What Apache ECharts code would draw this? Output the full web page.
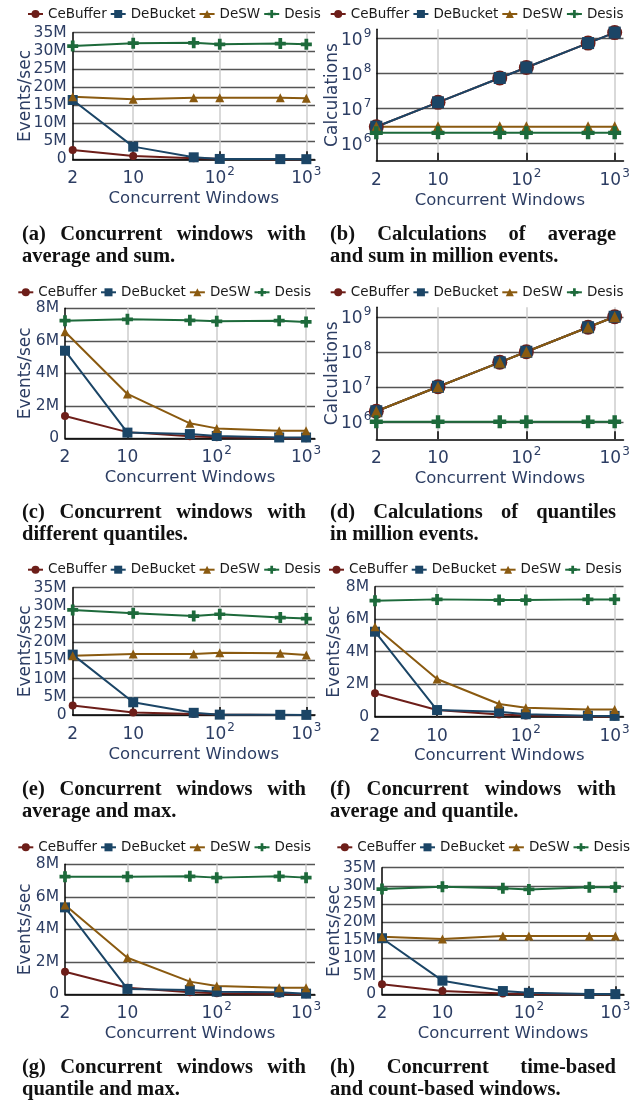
<!DOCTYPE html>
<html><head><meta charset="utf-8">
<script src="https://cdn.jsdelivr.net/npm/echarts@6/dist/echarts.min.js"></script>
<style>html,body{margin:0;padding:0;background:#fff}#c{width:637px;height:1106px}</style>
</head><body><div id="c"></div>
<script>
// ---------- DATA ----------
const windows = [2, 10, 50, 100, 500, 1000];
const seriesNames = ['CeBuffer', 'DeBucket', 'DeSW', 'Desis'];
const xTickValues = [10, 100, 1000];
const xLabelValues = [2, 10, 100, 1000];
const yLogTickValues = [1e6, 1e7, 1e8, 1e9];

// (a) Events/sec in millions
const aCeBuffer = [2.6, 0.9, 0.3, 0.15, 0.03, 0.02];
const aDeBucket = [16.4, 3.5, 0.55, 0.1, 0.05, 0.03];
const aDeSW = [17.3, 16.6, 17.0, 17.0, 17.0, 16.9];
const aDesis = [31.3, 32.1, 32.2, 31.8, 32.0, 31.8];
// (b) Calculations
const bCeBuffer = [3e6, 1.5e7, 7.5e7, 1.5e8, 7.5e8, 1.5e9];
const bDeBucket = [3e6, 1.5e7, 7.5e7, 1.5e8, 7.5e8, 1.5e9];
const bDeSW = [3e6, 3e6, 3e6, 3e6, 3e6, 3e6];
const bDesis = [2e6, 2e6, 2e6, 2e6, 2e6, 2e6];
// (c) Events/sec in millions
const cCeBuffer = [1.37, 0.38, 0.12, 0.07, 0.02, 0.01];
const cDeBucket = [5.39, 0.35, 0.26, 0.14, 0.05, 0.05];
const cDeSW = [6.56, 2.73, 0.92, 0.61, 0.47, 0.47];
const cDesis = [7.24, 7.32, 7.26, 7.2, 7.24, 7.16];
// (d) Calculations
const dCeBuffer = [2e6, 1e7, 5e7, 1e8, 5e8, 1e9];
const dDeBucket = [2e6, 1e7, 5e7, 1e8, 5e8, 1e9];
const dDeSW = [2e6, 1e7, 5e7, 1e8, 5e8, 1e9];
const dDesis = [1e6, 1e6, 1e6, 1e6, 1e6, 1e6];
// (e) Events/sec in millions
const eCeBuffer = [2.6, 0.7, 0.25, 0.12, 0.03, 0.02];
const eDeBucket = [16.6, 3.5, 0.6, 0.1, 0.05, 0.03];
const eDeSW = [16.3, 16.8, 16.8, 17.1, 17.0, 16.5];
const eDesis = [28.9, 28.0, 27.2, 27.7, 26.8, 26.5];
// (f) Events/sec in millions
const fCeBuffer = [1.44, 0.41, 0.13, 0.07, 0.02, 0.01];
const fDeBucket = [5.23, 0.41, 0.31, 0.15, 0.06, 0.05];
const fDeSW = [5.54, 2.32, 0.78, 0.55, 0.45, 0.45];
const fDesis = [7.14, 7.22, 7.18, 7.18, 7.22, 7.22];
// (g) Events/sec in millions
const gCeBuffer = [1.39, 0.4, 0.12, 0.07, 0.03, 0.01];
const gDeBucket = [5.35, 0.33, 0.26, 0.16, 0.13, 0.04];
const gDeSW = [5.5, 2.25, 0.78, 0.51, 0.41, 0.41];
const gDesis = [7.24, 7.24, 7.26, 7.18, 7.26, 7.18];
// (h) Events/sec in millions
const hCeBuffer = [2.76, 0.9, 0.25, 0.1, 0.03, 0.02];
const hDeBucket = [15.5, 3.77, 0.9, 0.4, 0.1, 0.05];
const hDeSW = [15.9, 15.3, 16.1, 16.1, 16.1, 16.1];
const hDesis = [29.1, 29.7, 29.3, 29.0, 29.6, 29.6];

const captionsLine1 = ['(a) Concurrent windows with', '(b) Calculations of average', '(c) Concurrent windows with', '(d) Calculations of quantiles',
  '(e) Concurrent windows with', '(f) Concurrent windows with', '(g) Concurrent windows with', '(h) Concurrent time-based'];
const captionsLine2 = ['average and sum.', 'and sum in million events.', 'different quantiles.', 'in million events.',
  'average and max.', 'average and quantile.', 'quantile and max.', 'and count-based windows.'];

const panelData = [
  [aCeBuffer, aDeBucket, aDeSW, aDesis],
  [bCeBuffer, bDeBucket, bDeSW, bDesis],
  [cCeBuffer, cDeBucket, cDeSW, cDesis],
  [dCeBuffer, dDeBucket, dDeSW, dDesis],
  [eCeBuffer, eDeBucket, eDeSW, eDesis],
  [fCeBuffer, fDeBucket, fDeSW, fDesis],
  [gCeBuffer, gDeBucket, gDeSW, gDesis],
  [hCeBuffer, hDeBucket, hDeSW, hDesis]
];

// ---------- LAYOUT / STYLE ----------
const panels = [
  {grid: [72.7, 32.7, 242.3, 126.6], y: 'lin35', yName: 'Events/sec', yGap: 39, legend: [27, 15], cap: [22, 306, 235]},
  {grid: [376.3, 29.3, 247.2, 131.5], y: 'log', yName: 'Calculations', yGap: 35, legend: [329.7, 15], cap: [330, 616, 235]},
  {grid: [65, 308.3, 250, 130], y: 'lin8', yName: 'Events/sec', yGap: 31, legend: [17.3, 293.3], cap: [22, 306, 513]},
  {grid: [376.3, 307.3, 247.2, 132], y: 'log', yName: 'Calculations', yGap: 35, legend: [329.7, 293.3], cap: [330, 616, 513]},
  {grid: [72.7, 587.7, 242.3, 127.3], y: 'lin35', yName: 'Events/sec', yGap: 39, legend: [27, 570.7], cap: [22, 306, 790]},
  {grid: [375, 586.7, 248.5, 130], y: 'lin8', yName: 'Events/sec', yGap: 32, legend: [328, 570.7], cap: [330, 616, 790]},
  {grid: [65, 864.3, 250, 130], y: 'lin8', yName: 'Events/sec', yGap: 31, legend: [17.3, 848.3], cap: [22, 306, 1068]},
  {grid: [382, 867.7, 242, 126.6], y: 'lin35', yName: 'Events/sec', yGap: 39, legend: [336.3, 848.3], cap: [330, 616, 1068]}
];

const colors = ['#6d1e19', '#1b4566', '#8a5a10', '#1d6a3b'];
const plusPath = 'path://M3.3,0H6.7V3.3H10V6.7H6.7V10H3.3V6.7H0V3.3H3.3Z';
const symbols = ['circle', 'rect', 'triangle', plusPath];
const sizesLin = [8, 10, 9, 11];
const sizesLog = [15, 12, 11, 13];
const axisTextColor = '#2c3d63';
const FONT = 'DejaVu Sans';
const TICK_FS = 17;
const YTICK_FS = 15.5;

function supLabel(v) {
  const e = Math.round(Math.log10(v));
  if (v === 2) return '{b|2}';
  if (e === 1) return '{b|10}';
  return '{b|10}{s|' + e + '}';
}
const richSup = {
  b: {fontSize: TICK_FS, lineHeight: 21, color: axisTextColor, fontFamily: FONT, verticalAlign: 'bottom'},
  s: {fontSize: 12, lineHeight: 12, color: axisTextColor, fontFamily: FONT, verticalAlign: 'top', padding: [0, 0, 0, 1]}
};

const grids = [], xAxes = [], yAxes = [], series = [], legends = [], graphics = [];

panels.forEach((p, i) => {
  grids.push({left: p.grid[0], top: p.grid[1], width: p.grid[2], height: p.grid[3], containLabel: false, outerBoundsMode: 'none'});
  xAxes.push({
    type: 'log', logBase: 10, gridIndex: i, min: 2, max: 1259,
    name: 'Concurrent Windows', nameLocation: 'middle', nameGap: 31, nameMoveOverlap: false,
    nameTextStyle: {color: axisTextColor, fontSize: 16.5, fontFamily: FONT},
    axisLine: {show: true, lineStyle: {color: '#000', width: 1.5}},
    axisTick: {show: true, inside: true, length: 8, customValues: xTickValues, lineStyle: {color: '#333', width: 2}},
    axisLabel: {customValues: xLabelValues, formatter: supLabel, color: axisTextColor, fontSize: TICK_FS, fontFamily: FONT, margin: 7, rich: richSup},
    splitLine: {show: true, lineStyle: {color: '#cccccc', width: 1.5}},
    minorTick: {show: false}, minorSplitLine: {show: false}
  });
  let ya;
  const common = {
    gridIndex: i, name: p.yName, nameLocation: 'middle', nameGap: p.yGap, nameMoveOverlap: false,
    nameTextStyle: {color: axisTextColor, fontSize: 17, fontFamily: FONT},
    axisLine: {show: true, lineStyle: {color: '#000', width: 1.5}},
    axisTick: {show: false},
    splitLine: {show: true, lineStyle: {color: '#555555', width: 1.4}}
  };
  if (p.y === 'log') {
    ya = Object.assign({}, common, {
      type: 'log', logBase: 10, min: Math.pow(10, 5.5), max: Math.pow(10, 9.27),
      axisTick: {show: false, customValues: yLogTickValues},
      axisLabel: {customValues: yLogTickValues, formatter: supLabel, color: axisTextColor, fontSize: TICK_FS, fontFamily: FONT, margin: 5, rich: richSup}
    });
  } else {
    const mx = p.y === 'lin35' ? 35 : 8;
    const iv = p.y === 'lin35' ? 5 : 2;
    ya = Object.assign({}, common, {
      type: 'value', min: 0, max: mx, interval: iv,
      axisLabel: {formatter: v => v === 0 ? '0' : v + 'M', color: axisTextColor, fontSize: YTICK_FS, fontFamily: FONT, margin: 6}
    });
  }
  yAxes.push(ya);

  const sizes = p.y === 'log' ? sizesLog : sizesLin;
  seriesNames.forEach((name, k) => {
    series.push({
      type: 'line', name: name, xAxisIndex: i, yAxisIndex: i,
      data: windows.map((w, j) => [w, panelData[i][k][j]]),
      symbol: symbols[k], symbolSize: sizes[k], showSymbol: true, clip: false,
      lineStyle: {color: colors[k], width: 2},
      itemStyle: {color: colors[k]},
      emphasis: {disabled: true}, silent: true, animation: false
    });
  });

  legends.push({
    left: p.legend[0], top: p.legend[1] - 8, padding: 0, orient: 'horizontal',
    itemWidth: 15, itemHeight: 10, itemGap: 3, selectedMode: false,
    data: seriesNames,
    textStyle: {fontSize: 13.5, color: '#1a1a1a', fontFamily: FONT}
  });
});

// ---------- CAPTIONS (justified first line) ----------
const capFontSize = 20.5;
const capFamily = '"Liberation Serif", serif';
const mctx = document.createElement('canvas').getContext('2d');
mctx.font = 'bold ' + capFontSize + 'px ' + capFamily;
function textEl(t, x, y) {
  return {type: 'text', x: x, y: y, silent: true,
    style: {text: t, fontSize: capFontSize, fontWeight: 'bold', fontFamily: capFamily, fill: '#111',
      align: 'left', verticalAlign: 'middle', textAlign: 'left', textVerticalAlign: 'middle'}};
}
panels.forEach((p, i) => {
  const x0 = p.cap[0], x1 = p.cap[1], y = p.cap[2];
  const words = captionsLine1[i].split(' ');
  const widths = words.map(w => mctx.measureText(w).width);
  const total = widths.reduce((a, b) => a + b, 0);
  const gap = (x1 - x0 - total) / (words.length - 1);
  let x = x0;
  words.forEach((w, k) => { graphics.push(textEl(w, x, y)); x += widths[k] + gap; });
  graphics.push(textEl(captionsLine2[i], x0, y + 22));
});

const chart = echarts.init(document.getElementById('c'), null, {renderer: 'canvas', width: 637, height: 1106});
chart.setOption({
  backgroundColor: '#ffffff',
  animation: false,
  textStyle: {fontFamily: FONT},
  grid: grids, xAxis: xAxes, yAxis: yAxes, series: series, legend: legends,
  graphic: {elements: graphics}
});
</script></body></html>
